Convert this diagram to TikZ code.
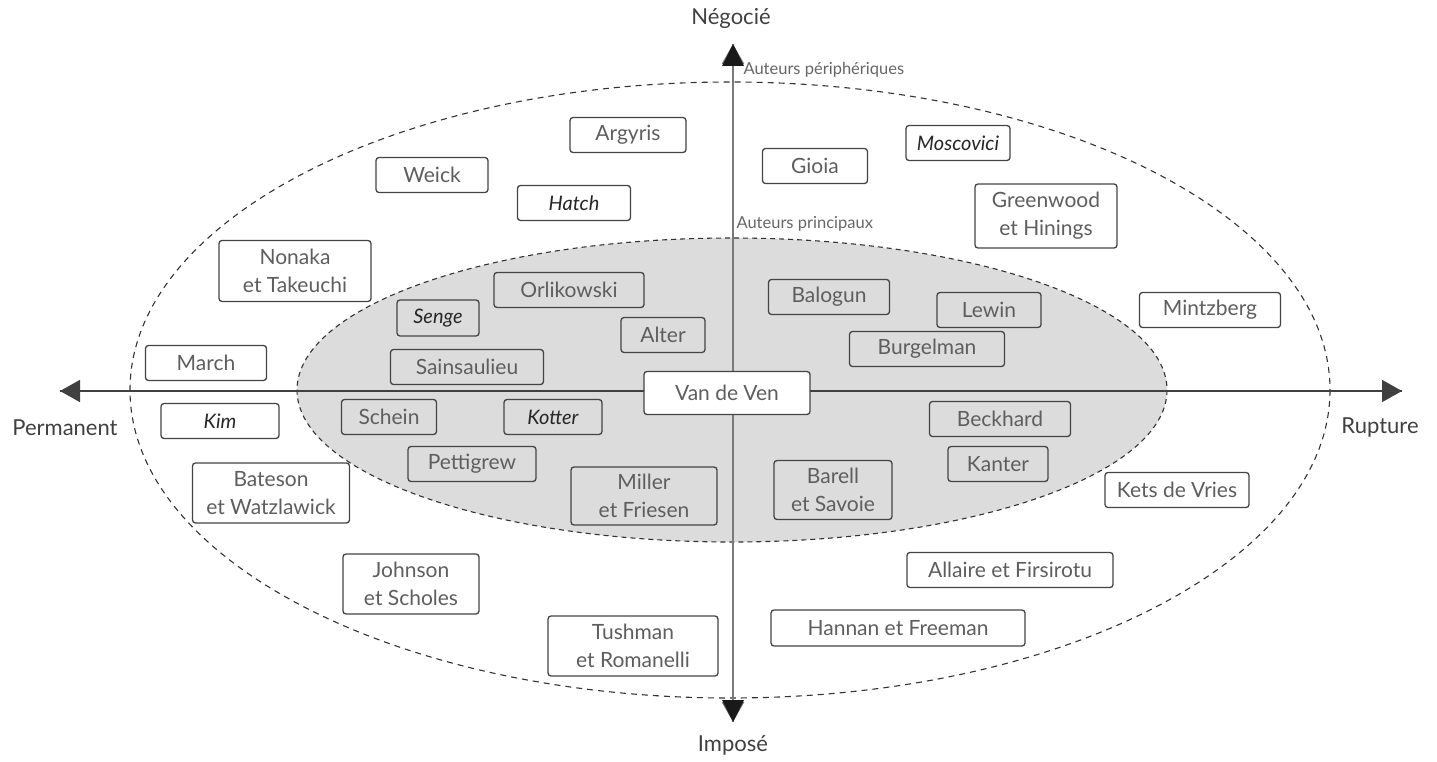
\documentclass[tikz,border=0pt]{standalone}
\usepackage{fontspec}
\setmainfont{Lato}
\usetikzlibrary{arrows.meta}
\definecolor{txt}{HTML}{5E5E5E}
\definecolor{boxline}{HTML}{444444}
\definecolor{inner}{HTML}{DCDCDC}
\definecolor{vaxis}{HTML}{7A7A7A}
\tikzset{
  abox/.style={draw=boxline, line width=1.3pt, rounded corners=3pt, text=txt, font=\fontsize{21}{28}\selectfont, align=center, inner sep=1pt, minimum height=35pt},
  obox/.style={abox, fill=white},
  ibox/.style={abox, fill=inner},
  it/.style={font=\fontsize{20}{28}\selectfont\itshape, text=black!85},
  tip/.style={-{Triangle[length=20pt,width=22pt]}},
  axlabel/.style={text=black!75, font=\fontsize{22}{24}\selectfont},
  small/.style={text=black!60, font=\fontsize{16.5}{18}\selectfont, anchor=west}
}
\begin{document}
\begin{tikzpicture}[x=1pt,y=-1pt]
\useasboundingbox (0,0) rectangle (1437,762);
% ellipses
\draw[line width=1.1pt, black!80, dash pattern=on 6pt off 5pt] (730,390) ellipse [x radius=600, y radius=308];
\draw[line width=1.1pt, black!80, fill=inner, dash pattern=on 5pt off 4pt] (732,390) ellipse [x radius=435, y radius=152];
% axes
\coordinate (left) at (60,391);
\coordinate (right) at (1402,391);
\coordinate (top) at (733,44);
\coordinate (bottom) at (733,722);
\draw[tip, line width=1.6pt, black!75] (right) -- (left);
\draw[tip, line width=1.6pt, black!75] (left) -- (right);
\draw[tip, line width=2.8pt, vaxis] (bottom) -- (top);
\draw[tip, line width=2.8pt, vaxis] (top) -- (bottom);
\fill[black!90] (733,44) -- (722,66) -- (744,66) -- cycle;
\fill[black!90] (733,722) -- (722,700) -- (744,700) -- cycle;
% axis labels
\node[axlabel] (neg) at (731,18) {Négocié};
\node[axlabel] (imp) at (733,745) {Imposé};
\node[axlabel] (perm) at (65,428) {Permanent};
\node[axlabel] (rup) at (1380,428) {Rupture};
\node[small] (periph) at (740,70) {Auteurs périphériques};
\node[small] (princ) at (733,224) {Auteurs principaux};
% outer boxes
\node[obox, minimum width=116pt] (argyris) at (628,135) {Argyris};
\node[obox, minimum width=112pt] (weick) at (432,175) {Weick};
\node[obox, it, minimum width=113pt] (hatch) at (574,203) {Hatch};
\node[obox, minimum width=105pt] (gioia) at (815,166) {Gioia};
\node[obox, it, minimum width=104pt] (moscovici) at (958,143) {Moscovici};
\node[obox, minimum width=142pt, minimum height=64pt] (greenwood) at (1046,216) {Greenwood\\et Hinings};
\node[obox, minimum width=152pt, minimum height=61pt] (nonaka) at (295,271) {Nonaka\\et Takeuchi};
\node[obox, minimum width=141pt] (mintzberg) at (1210,310) {Mintzberg};
\node[obox, minimum width=121pt] (march) at (206,363) {March};
\node[obox, it, minimum width=118pt] (kim) at (220,421) {Kim};
\node[obox, minimum width=157pt, minimum height=60pt] (bateson) at (271,493) {Bateson\\et Watzlawick};
\node[obox, minimum width=144pt] (kets) at (1177,490) {Kets de Vries};
\node[obox, minimum width=136pt, minimum height=60pt] (johnson) at (411,584) {Johnson\\et Scholes};
\node[obox, minimum width=206pt] (allaire) at (1010,570) {Allaire et Firsirotu};
\node[obox, minimum width=170pt, minimum height=60pt] (tushman) at (633,646) {Tushman\\et Romanelli};
\node[obox, minimum width=254pt, minimum height=36pt] (hannan) at (898,628) {Hannan et Freeman};
% inner boxes
\node[ibox, minimum width=150pt] (orlikowski) at (569,290) {Orlikowski};
\node[ibox, it, minimum width=82pt, minimum height=36pt] (senge) at (438,318) {Senge};
\node[ibox, minimum width=84pt] (alter) at (663,335) {Alter};
\node[ibox, minimum width=121pt] (balogun) at (829,297) {Balogun};
\node[ibox, minimum width=104pt] (lewin) at (989,310) {Lewin};
\node[ibox, minimum width=155pt] (burgelman) at (927,349) {Burgelman};
\node[ibox, minimum width=153pt] (sainsaulieu) at (467,367) {Sainsaulieu};
\node[ibox, minimum width=95pt] (schein) at (389,417) {Schein};
\node[ibox, it, minimum width=98pt] (kotter) at (553,417) {Kotter};
\node[ibox, minimum width=141pt] (beckhard) at (1000,419) {Beckhard};
\node[ibox, minimum width=128pt] (pettigrew) at (472,464) {Pettigrew};
\node[ibox, minimum width=100pt] (kanter) at (998,464) {Kanter};
\node[ibox, minimum width=146pt, minimum height=58pt] (miller) at (644,496) {Miller\\et Friesen};
\node[ibox, minimum width=118pt, minimum height=59pt] (barell) at (833,490) {Barell\\et Savoie};
\node[obox, minimum width=166pt, minimum height=43pt] (vandeven) at (727,393) {Van de Ven};
\end{tikzpicture}
\end{document}
